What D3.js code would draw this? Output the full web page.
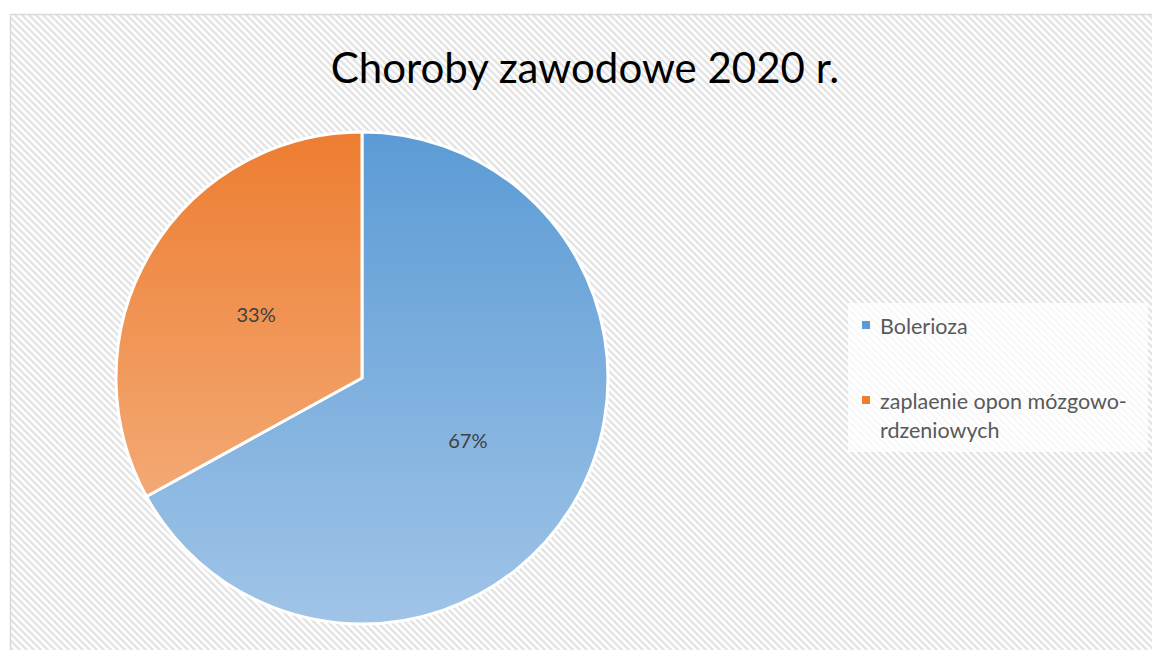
<!DOCTYPE html>
<html>
<head>
<meta charset="utf-8">
<script src="https://cdn.jsdelivr.net/npm/d3@7"></script>
<style>
  body { margin: 0; background: #fff; }
  svg { display: block; }
</style>
</head>
<body>
<svg width="1152" height="650"></svg>
<script>
var title = "Choroby zawodowe 2020 r.";
var categories = ["Bolerioza", "zaplaenie opon mózgowo-rdzeniowych"];
var values = [67, 33];
var topColors = ["#5b9bd5", "#ed7d31"];
var bottomColors = ["#a0c4e7", "#f5b88b"];

var svg = d3.select("svg");
var defs = svg.append("defs");

// diagonal hatch background
var pat = defs.append("pattern")
    .attr("id", "hatch")
    .attr("patternUnits", "userSpaceOnUse")
    .attr("width", 7)
    .attr("height", 7);
pat.append("rect").attr("width", 7).attr("height", 7).attr("fill", "#fff");
pat.append("path")
    .attr("d", "M-1,-1 L8,8 M-4.5,2.5 L1,8 M6,-1 L8.5,1.5 M2.5,-4.5 L8,1")
    .attr("stroke", "#e4e4e4")
    .attr("stroke-width", 2.4);

svg.append("rect")
    .attr("x", 10.5).attr("y", 14.5)
    .attr("width", 1160).attr("height", 660)
    .attr("fill", "url(#hatch)")
    .attr("stroke", "#d9d9d9")
    .attr("stroke-width", 1.5);

// title
svg.append("text")
    .attr("x", 585)
    .attr("y", 83)
    .attr("text-anchor", "middle")
    .style("font-family", "Lato, 'Open Sans', sans-serif")
    .style("font-size", "42px")
    .style("fill", "#000")
    .text(title);

// pie
var cx = 362, cy = 378, radius = 246;

categories.forEach(function(c, i) {
    var g = defs.append("linearGradient")
        .attr("id", "grad" + i)
        .attr("gradientUnits", "userSpaceOnUse")
        .attr("x1", 0).attr("y1", -radius)
        .attr("x2", 0).attr("y2", radius);
    g.append("stop").attr("offset", "0%").attr("stop-color", topColors[i]);
    g.append("stop").attr("offset", "100%").attr("stop-color", bottomColors[i]);
});

var pie = d3.pie().sort(null).value(function(d) { return d; });
var arc = d3.arc().innerRadius(0).outerRadius(radius);
var labelArc = d3.arc().innerRadius(radius * 0.5).outerRadius(radius * 0.5);

var pieG = svg.append("g").attr("transform", "translate(" + cx + "," + cy + ")");
var arcs = pie(values);

pieG.selectAll("path")
    .data(arcs)
    .enter()
    .append("path")
    .attr("d", arc)
    .attr("fill", function(d, i) { return "url(#grad" + i + ")"; })
    .attr("stroke", "#fff")
    .attr("stroke-width", 3)
    .attr("stroke-linejoin", "round");

pieG.selectAll("text.lbl")
    .data(arcs)
    .enter()
    .append("text")
    .attr("class", "lbl")
    .attr("transform", function(d) {
        var p = labelArc.centroid(d);
        return "translate(" + p[0] + "," + p[1] + ")";
    })
    .attr("text-anchor", "middle")
    .attr("dy", "0.35em")
    .style("font-family", "Lato, 'Open Sans', sans-serif")
    .style("font-size", "20px")
    .style("fill", "#404040")
    .text(function(d) { return d.data + "%"; });

// legend
var legend = svg.append("g");
legend.append("rect")
    .attr("x", 848).attr("y", 303)
    .attr("width", 300).attr("height", 149)
    .attr("fill", "#fff")
    .attr("fill-opacity", 0.75);

var legendLines = [["Bolerioza"], ["zaplaenie opon mózgowo-", "rdzeniowych"]];
var legendY = [326, 401];

legendLines.forEach(function(lines, i) {
    legend.append("rect")
        .attr("x", 862).attr("y", legendY[i] - 5)
        .attr("width", 8).attr("height", 8)
        .attr("fill", topColors[i]);
    lines.forEach(function(t, j) {
        legend.append("text")
            .attr("x", 880)
            .attr("y", legendY[i] + j * 29)
            .attr("dy", "0.35em")
            .style("font-family", "Lato, 'Open Sans', sans-serif")
            .style("font-size", "21.5px")
            .style("fill", "#595959")
            .text(t);
    });
});
</script>
</body>
</html>
